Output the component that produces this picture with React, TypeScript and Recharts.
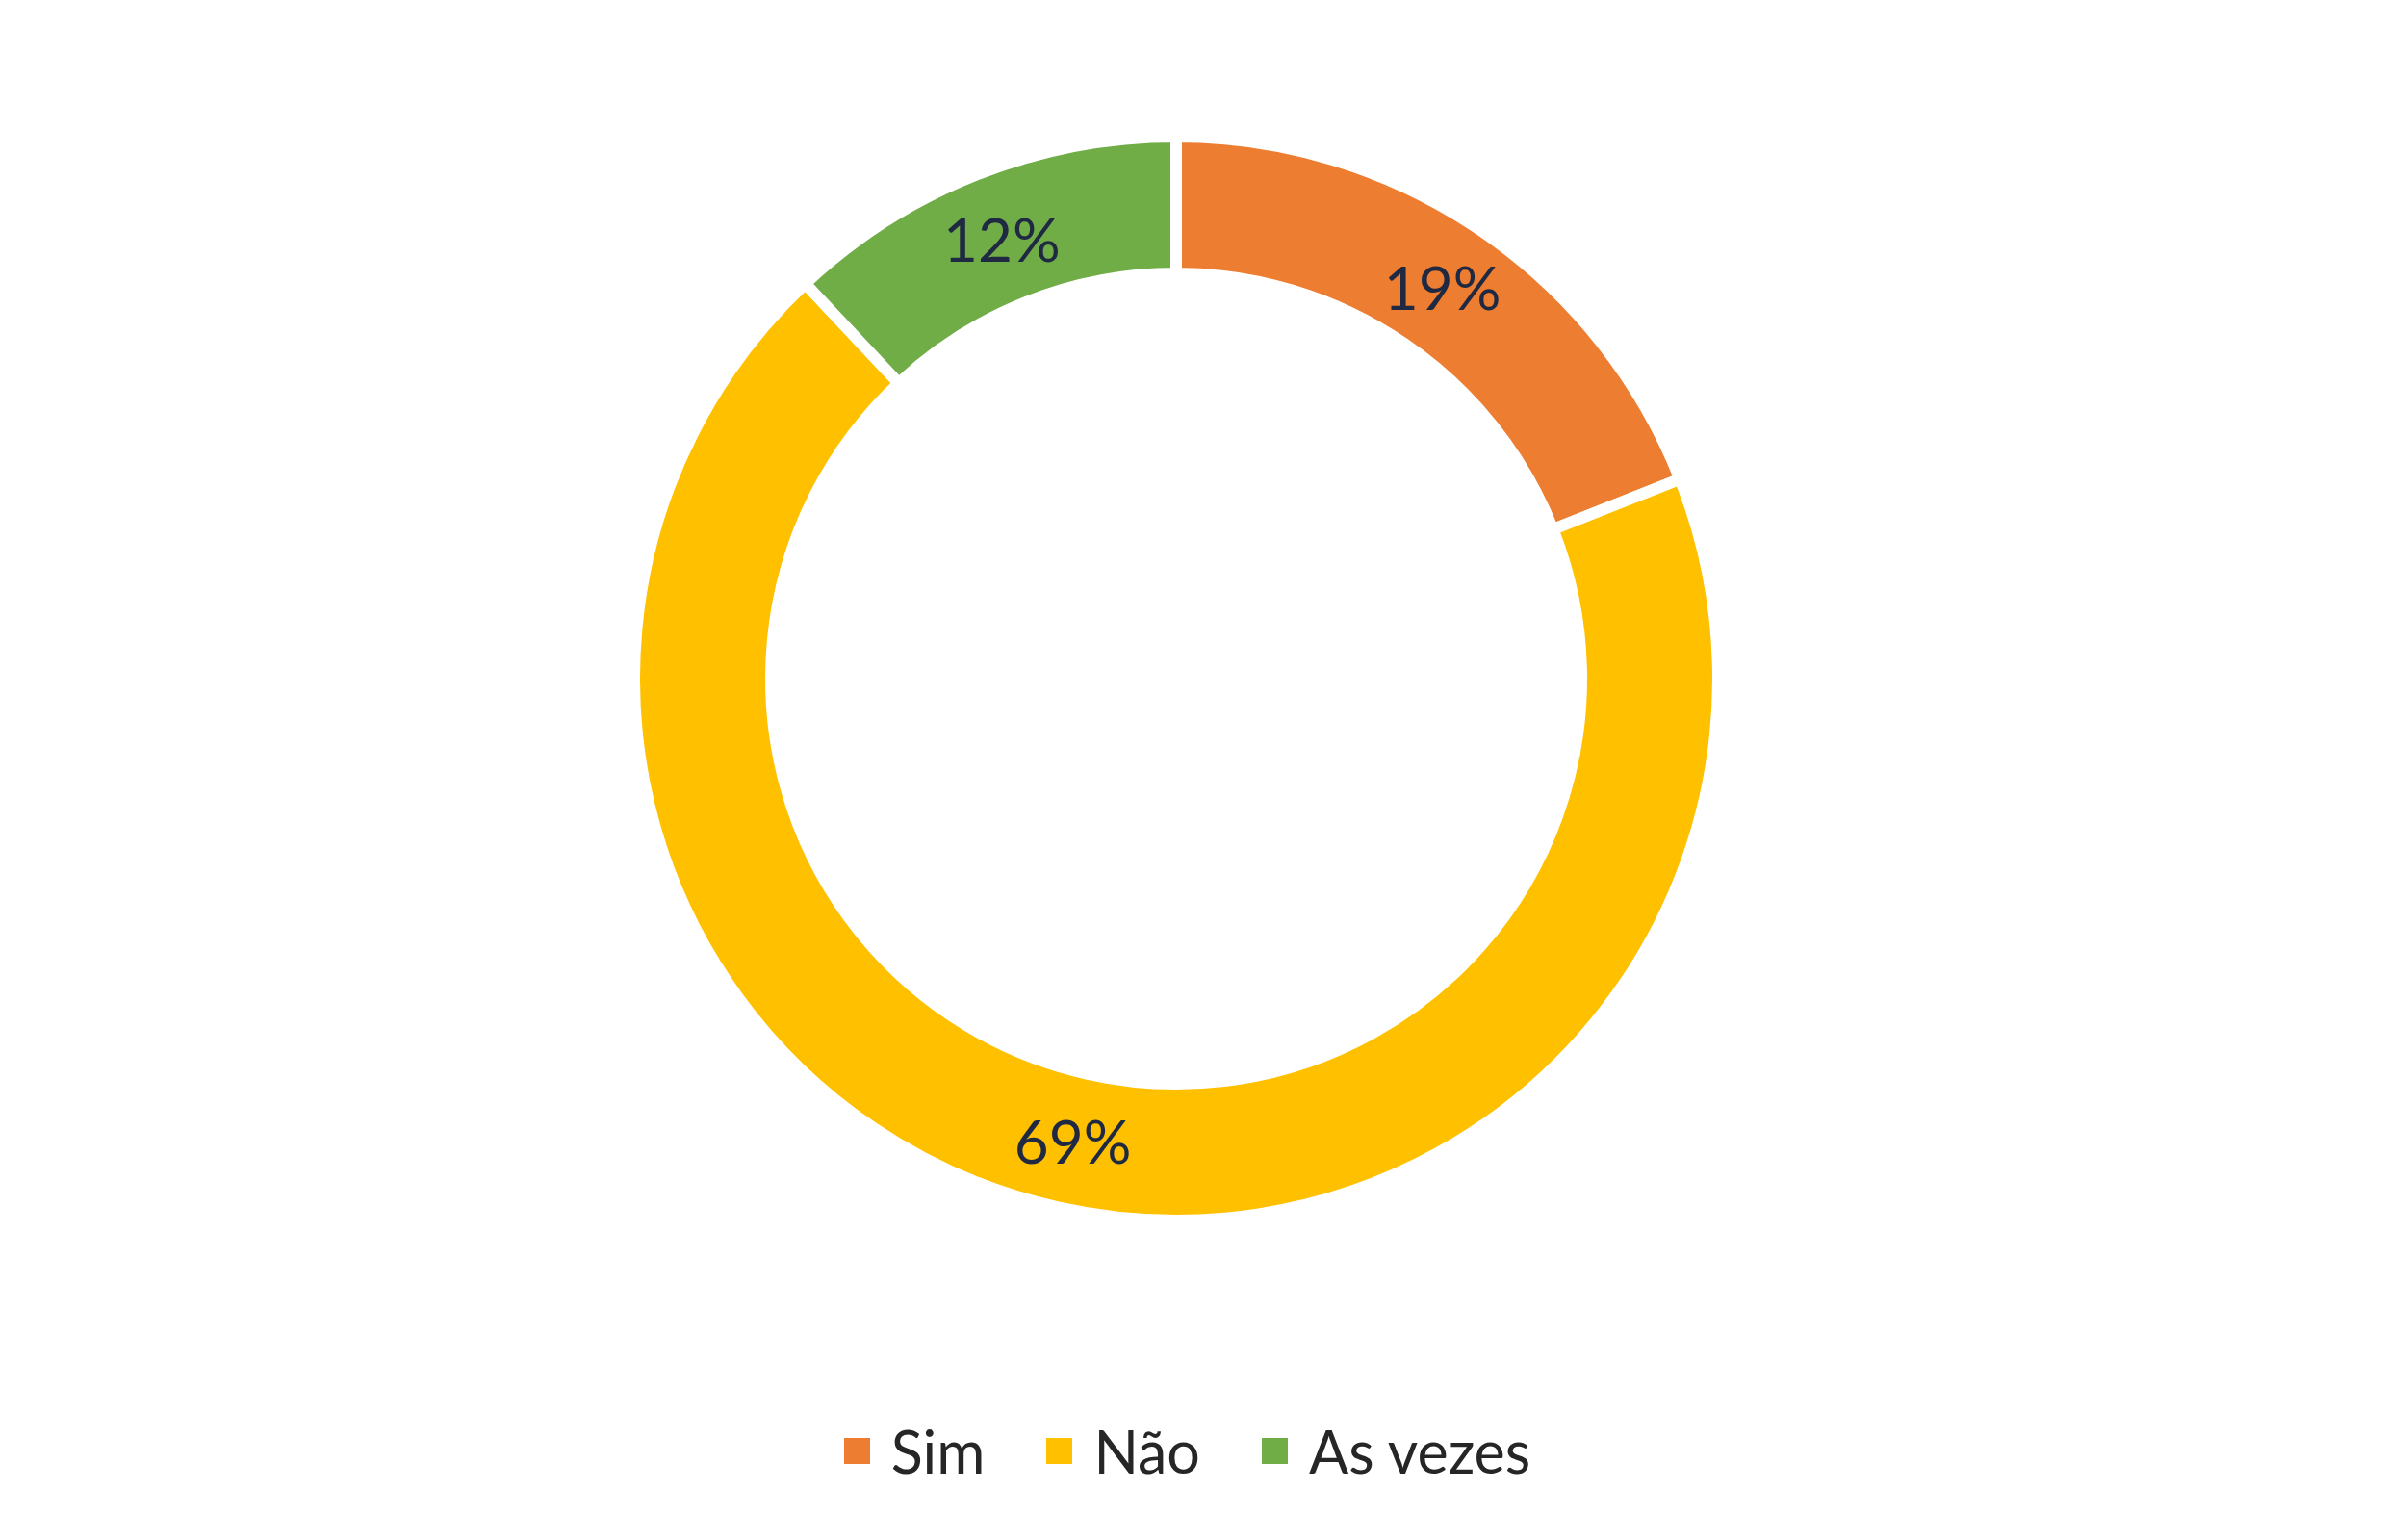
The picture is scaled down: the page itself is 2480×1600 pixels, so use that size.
import React from "react";
import { PieChart, Pie, Cell, Legend } from "recharts";

const categories = ["Sim", "Não", "As vezes"];
const values = [19, 69, 12];
const colors = ["#ED7D31", "#FFC000", "#70AD47"];

const data = categories.map((name, i) => ({ name, value: values[i] }));

const RAD = Math.PI / 180;

const renderLabel = (props: any) => {
  const { cx, cy, midAngle, innerRadius, outerRadius, value } = props;
  const r = (innerRadius + outerRadius) / 2;
  const x = cx + r * Math.cos(-midAngle * RAD);
  const y = cy + r * Math.sin(-midAngle * RAD);
  return (
    <text
      x={x}
      y={y}
      fill="#1f2942"
      textAnchor="middle"
      dominantBaseline="central"
      fontFamily="Lato, 'Noto Sans', sans-serif"
      fontSize={62}
    >
      {`${value}%`}
    </text>
  );
};

const renderLegend = () => {
  return (
    <div
      style={{
        display: "flex",
        justifyContent: "center",
        alignItems: "center",
        gap: 64,
        paddingRight: 13,
        fontFamily: "Lato, 'Noto Sans', sans-serif",
        fontSize: 61,
        lineHeight: "61px",
        color: "#262626",
      }}
    >
      {categories.map((name, i) => (
        <div key={name} style={{ display: "flex", alignItems: "center" }}>
          <div
            style={{
              width: 27,
              height: 27,
              background: colors[i],
              marginRight: 22,
            }}
          />
          <span>{name}</span>
        </div>
      ))}
    </div>
  );
};

export default function App() {
  return (
    <PieChart width={2464} height={1584}>
      <Pie
        data={data}
        dataKey="value"
        nameKey="name"
        cx={1209}
        cy={692}
        innerRadius={421}
        outerRadius={563}
        startAngle={90}
        endAngle={-270}
        stroke="#ffffff"
        strokeWidth={12}
        label={renderLabel}
        labelLine={false}
        isAnimationActive={false}
      >
        {data.map((d, i) => (
          <Cell key={d.name} fill={colors[i]} />
        ))}
      </Pie>
      <Legend
        content={renderLegend}
        wrapperStyle={{ left: 0, top: 1469, width: 2464 }}
      />
    </PieChart>
  );
}
